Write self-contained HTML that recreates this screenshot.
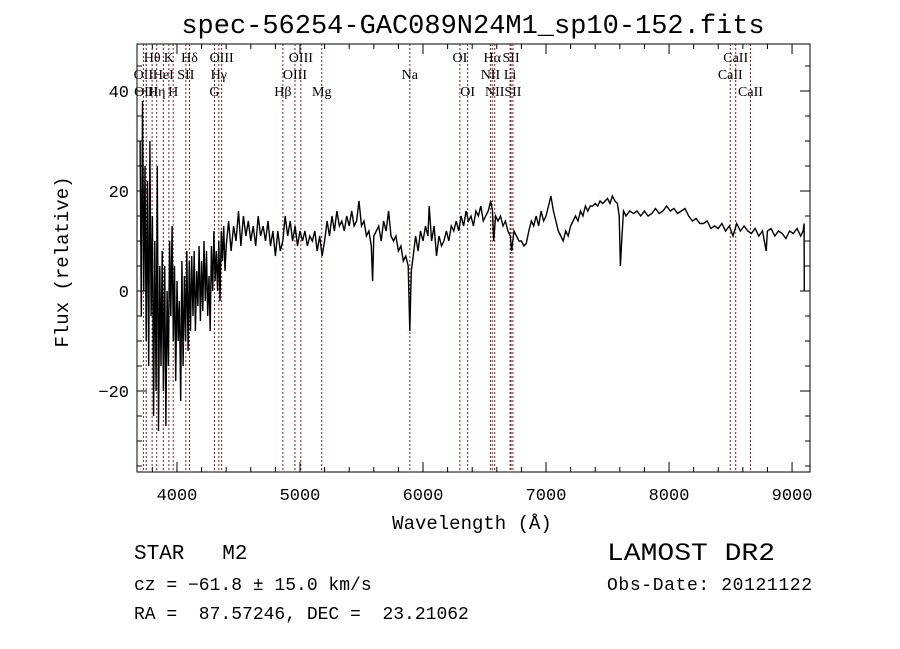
<!DOCTYPE html>
<html><head><meta charset="utf-8">
<style>
html,body{margin:0;padding:0;background:#fff;}
svg{display:block;}
.mono{font-family:"Liberation Mono",monospace;fill:#000;}
.ser{font-family:"Liberation Serif",serif;fill:#000;font-size:14px;}
</style></head>
<body>
<svg id="chart" width="900" height="649" viewBox="0 0 900 649">
<text class="mono" x="473" y="33" text-anchor="middle" font-size="27">spec-56254-GAC089N24M1_sp10-152.fits</text>
<g id="axes"></g>
<g id="lines"></g>
<g id="series"></g>
<text class="mono" x="472" y="529" text-anchor="middle" font-size="19">Wavelength (Å)</text>
<text class="mono" x="0" y="0" text-anchor="middle" font-size="19" transform="translate(68,262) rotate(-90)">Flux (relative)</text>
<text class="mono" x="134" y="559" font-size="21" xml:space="preserve">STAR   M2</text>
<text class="mono" x="134" y="590" font-size="18">cz = −61.8 ± 15.0 km/s</text>
<text class="mono" x="134" y="619" font-size="18" xml:space="preserve">RA =  87.57246, DEC =  23.21062</text>
<text class="mono" x="607" y="560" font-size="25" textLength="168" lengthAdjust="spacingAndGlyphs">LAMOST DR2</text>
<text class="mono" x="607" y="590" font-size="18" textLength="205">Obs-Date: 20121122</text>
</svg>
<script>
const wl=[3700,3710,3720,3730,3740,3750,3760,3770,3780,3790,3800,3810,3820,3830,3840,3850,3860,3870,3880,3890,3900,3910,3920,3930,3940,3950,3960,3970,3980,3990,4000,4010,4020,4030,4040,4050,4060,4070,4080,4090,4100,4110,4120,4130,4140,4150,4160,4170,4180,4190,4200,4210,4220,4230,4240,4250,4260,4270,4280,4290,4300,4310,4320,4330,4340,4350,4360,4370,4380,4390,4400,
4420,4440,4460,4480,4500,4520,4540,4560,4580,4600,4620,4640,4660,4680,4700,4720,4740,4760,4780,4800,4820,4840,4860,4880,4900,4920,4940,4960,4980,5000,5020,5040,5060,5080,5100,5120,5140,5160,5180,5200,5220,5240,5260,5280,5300,5320,5340,5360,5380,5400,5420,5440,5460,5480,5500,5520,5540,5560,5580,5590,5600,5620,5640,5660,5680,5700,5720,5740,5760,5780,5800,5820,5840,5860,5880,5893,5905,5920,5940,5960,5980,6000,6020,6040,6050,6070,6090,6110,6130,6150,6170,6190,6210,6230,6250,6270,6290,6310,6330,6350,6370,6390,6410,6430,6450,6470,6490,6510,6530,6550,6565,6575,6590,6610,6630,6650,6670,6690,6710,6720,6740,6760,6780,6800,6820,6840,6860,6880,6900,6920,6940,6960,6980,7000,7020,7040,7060,7080,7100,7120,7140,7160,7180,7200,7220,7240,7260,7280,7300,7320,7340,7360,7380,7400,7420,7440,7460,7480,7500,7520,7540,7560,7580,7595,7605,7615,7630,7650,7680,7710,7740,7770,7800,7830,7860,7890,7920,7950,7980,8010,8040,8070,8100,8130,8160,8190,8220,8250,8280,8310,8340,8370,8400,8430,8460,8490,8520,8550,8580,8610,8640,8670,8700,8730,8760,8790,8800,8830,8860,8890,8920,8950,8980,9010,9040,9070,9090,9098,9100];
const flux=[30,-5,38,0,25,-10,22,-15,30,-5,15,-25,10,-20,25,-28,5,-15,8,-20,5,-27,0,-15,10,-5,13,-10,5,-18,2,-10,-2,-22,6,-15,3,-10,8,-12,6,-8,7,-5,8,-8,4,-3,9,-6,6,-4,10,-2,8,-5,3,-8,9,0,12,2,8,0,10,-2,12,6,13,4,9,
14,8,13,10,16,9,15,11,14,10,13,9,15,11,13,10,14,9,12,7,12,8,10,15,11,14,10,13,9,12,10,12,9,11,10,12,8,11,7,10,14,11,15,12,16,13,14,12,15,13,16,13,14,18,13,14,11,12,9,2,11,12,13,10,14,12,16,11,10,11,8,9,6,7,5,-8,4,7,11,8,12,10,13,11,17,10,13,7,11,9,10,12,10,13,12,14,12,15,13,16,14,15,13,16,15,17,14,15,16,18,16,10,15,14,15,13,14,12,11,8,12,11,10,10,9,9.5,12,14,13,15,13,16,14,15,17,19,16,14,12,11,10,12,11,13,14,15,14,16,15,17,16,17,17,17.5,17,18,17.5,18,18.5,17.5,19,18,17.5,15,5,10,16,15,16,15.5,16,15,16,15,15.5,16.5,15.5,16,17,16,16.5,15.5,16,16.5,15,14,14.5,13.5,13.5,14,12.5,13,12.5,13.5,12,13,11,13.5,12,13,12,11.5,12.5,11,12,8,12,12.5,11,12,11.5,10.5,12,11.5,12.5,11,12,13.5,0];
const lineWl=[3727,3750,3798,3835,3889,3934,3969,4072,4102,4305,4340,4363,4861,4959,5007,5177,5893,6300,6363,6548,6563,6583,6708,6716,6731,8498,8542,8662];
const lineLab=["OII","OIII","Hθ","Hη","HeI","K","H","SII","Hδ","G","Hγ","OIII","Hβ","OIII","OIII","Mg","Na","OI","OI","NII","Hα","NII","Li","SII","SII","CaII","CaII","CaII"];
const lineRow=[2,3,1,3,2,1,3,2,1,3,2,1,3,2,1,3,2,1,3,2,1,3,2,1,3,2,1,3];
const xTicks=[4000,5000,6000,7000,8000,9000];
const yTicks=[-20,0,20,40];
const L=137,R=810,T=44,B=472;
const xMin=3675,xMax=9146,yMin=-36.2,yMax=49.4;
const X=v=>L+(v-xMin)/(xMax-xMin)*(R-L);
const Y=v=>B-(v-yMin)/(yMax-yMin)*(B-T);
const NS="http://www.w3.org/2000/svg";
function mk(tag,attrs,parent){const e=document.createElementNS(NS,tag);for(const k in attrs)e.setAttribute(k,attrs[k]);parent.appendChild(e);return e;}
const ax=document.getElementById('axes');
const frame=mk('rect',{x:L,y:T,width:R-L,height:B-T,fill:'none',stroke:'#000','stroke-width':1},ax);


for(let v=3800;v<=9100;v+=200){const major=v%1000===0;const len=major?10:5;const x=X(v);
 mk('line',{x1:x,x2:x,y1:B,y2:B-len,stroke:'#000'},ax);mk('line',{x1:x,x2:x,y1:T,y2:T+len,stroke:'#000'},ax);}
for(let v=-35;v<=45;v+=5){const major=v%20===0;const len=major?10:5;const y=Y(v);
 mk('line',{x1:L,x2:L+len,y1:y,y2:y,stroke:'#000'},ax);mk('line',{x1:R,x2:R-len,y1:y,y2:y,stroke:'#000'},ax);}
xTicks.forEach(v=>{const t=mk('text',{x:X(v),y:B+28,'text-anchor':'middle','font-size':17,class:'mono'},ax);t.textContent=v;
 
 });
yTicks.forEach(v=>{const t=mk('text',{x:129,y:Y(v)+6,'text-anchor':'end','font-size':17,class:'mono'},ax);t.textContent=v<0?'−'+(-v):v;
 
 });
const lg=document.getElementById('lines');
lineWl.forEach((w,i)=>{const x=X(w);
 const l=mk('line',{x1:x,x2:x,y1:T,y2:B,stroke:'#7a2020','stroke-width':1,'stroke-dasharray':'2,2'},lg);
 
 
 const t=mk('text',{x:x,y:T+18+(lineRow[i]-1)*17,'text-anchor':'middle',class:'ser'},lg);t.textContent=lineLab[i];
 
 });
const sg=document.getElementById('series');
let d='';wl.forEach((w,i)=>{d+=(i?'L':'M')+X(w).toFixed(1)+','+Y(flux[i]).toFixed(1);});
const p=mk('path',{d:d,fill:'none',stroke:'#000','stroke-width':1.4},sg);


</script>
</body></html>
